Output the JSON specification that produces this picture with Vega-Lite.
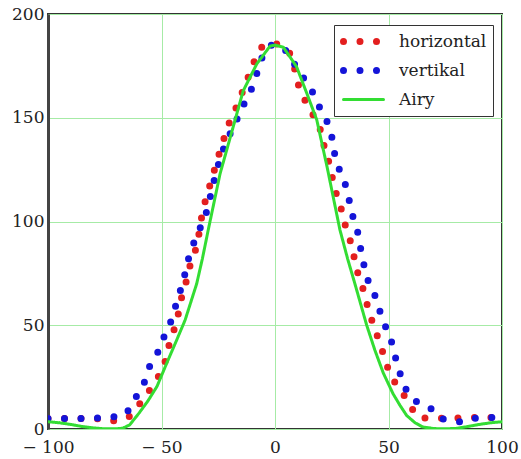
{
  "$schema": "https://vega.github.io/schema/vega-lite/v6.json",
  "width": 454,
  "height": 415,
  "autosize": {"type": "none"},
  "padding": {"left": 48, "top": 14, "right": 19, "bottom": 30},
  "background": "white",
  "config": {
    "view": {"stroke": "#333333", "strokeWidth": 2},
    "font": "DejaVu Serif"
  },
  "data": {
    "values": [
      {"series": "horizontal", "x": -100, "y": 5.1},
      {"series": "horizontal", "x": -95, "y": 5.1},
      {"series": "horizontal", "x": -90, "y": 5.1},
      {"series": "horizontal", "x": -85, "y": 5.1},
      {"series": "horizontal", "x": -80, "y": 5.0},
      {"series": "horizontal", "x": -75, "y": 4.8},
      {"series": "horizontal", "x": -72, "y": 3.8},
      {"series": "horizontal", "x": -69, "y": 4.2},
      {"series": "horizontal", "x": -66, "y": 5.0},
      {"series": "horizontal", "x": -64.6, "y": 5.5},
      {"series": "horizontal", "x": -61, "y": 10},
      {"series": "horizontal", "x": -57.3, "y": 15.6},
      {"series": "horizontal", "x": -53.6, "y": 21.2},
      {"series": "horizontal", "x": -50.7, "y": 26.5},
      {"series": "horizontal", "x": -48, "y": 33.6},
      {"series": "horizontal", "x": -46.5, "y": 41.3},
      {"series": "horizontal", "x": -44, "y": 49.3},
      {"series": "horizontal", "x": -42.2, "y": 57.3},
      {"series": "horizontal", "x": -40.8, "y": 65.4},
      {"series": "horizontal", "x": -38.9, "y": 71.8},
      {"series": "horizontal", "x": -37.2, "y": 79.9},
      {"series": "horizontal", "x": -35, "y": 86.3},
      {"series": "horizontal", "x": -33.5, "y": 94},
      {"series": "horizontal", "x": -32.3, "y": 102.3},
      {"series": "horizontal", "x": -30.8, "y": 109.5},
      {"series": "horizontal", "x": -28, "y": 120},
      {"series": "horizontal", "x": -25, "y": 131.2},
      {"series": "horizontal", "x": -20.6, "y": 146.5},
      {"series": "horizontal", "x": -17.6, "y": 153.7},
      {"series": "horizontal", "x": -15.4, "y": 159.4},
      {"series": "horizontal", "x": -12.9, "y": 166.6},
      {"series": "horizontal", "x": -10.3, "y": 173.8},
      {"series": "horizontal", "x": -8.1, "y": 180.2},
      {"series": "horizontal", "x": -5.2, "y": 185},
      {"series": "horizontal", "x": -1, "y": 186},
      {"series": "horizontal", "x": 2.9, "y": 185},
      {"series": "horizontal", "x": 6.5, "y": 181},
      {"series": "horizontal", "x": 8.8, "y": 173},
      {"series": "horizontal", "x": 10.5, "y": 165},
      {"series": "horizontal", "x": 13.5, "y": 157.7},
      {"series": "horizontal", "x": 17, "y": 151},
      {"series": "horizontal", "x": 19.8, "y": 145},
      {"series": "horizontal", "x": 21.3, "y": 137.7},
      {"series": "horizontal", "x": 23.5, "y": 129.6},
      {"series": "horizontal", "x": 25, "y": 122.4},
      {"series": "horizontal", "x": 26.4, "y": 115.2},
      {"series": "horizontal", "x": 28.6, "y": 108.8},
      {"series": "horizontal", "x": 30.4, "y": 100},
      {"series": "horizontal", "x": 32.7, "y": 92.7},
      {"series": "horizontal", "x": 34.5, "y": 84.7},
      {"series": "horizontal", "x": 36, "y": 76.6},
      {"series": "horizontal", "x": 38.2, "y": 70},
      {"series": "horizontal", "x": 39.8, "y": 63},
      {"series": "horizontal", "x": 41.9, "y": 55},
      {"series": "horizontal", "x": 44, "y": 47.7},
      {"series": "horizontal", "x": 46.5, "y": 41},
      {"series": "horizontal", "x": 48, "y": 34.8},
      {"series": "horizontal", "x": 50.5, "y": 27},
      {"series": "horizontal", "x": 53.6, "y": 21},
      {"series": "horizontal", "x": 57, "y": 16},
      {"series": "horizontal", "x": 60.2, "y": 10},
      {"series": "horizontal", "x": 63.1, "y": 5.5},
      {"series": "horizontal", "x": 69.7, "y": 5.1},
      {"series": "horizontal", "x": 75, "y": 5.3},
      {"series": "horizontal", "x": 80, "y": 5.3},
      {"series": "horizontal", "x": 85, "y": 5.5},
      {"series": "horizontal", "x": 90, "y": 5.5},
      {"series": "horizontal", "x": 95, "y": 5.5},
      {"series": "horizontal", "x": 100, "y": 5.5},

      {"series": "vertikal", "x": -100, "y": 5.1},
      {"series": "vertikal", "x": -95, "y": 5.1},
      {"series": "vertikal", "x": -90, "y": 5.1},
      {"series": "vertikal", "x": -85, "y": 5.1},
      {"series": "vertikal", "x": -80, "y": 5.1},
      {"series": "vertikal", "x": -75, "y": 5.5},
      {"series": "vertikal", "x": -70, "y": 6},
      {"series": "vertikal", "x": -66.8, "y": 6.3},
      {"series": "vertikal", "x": -63, "y": 11},
      {"series": "vertikal", "x": -60.5, "y": 17},
      {"series": "vertikal", "x": -57.3, "y": 23},
      {"series": "vertikal", "x": -55.3, "y": 30},
      {"series": "vertikal", "x": -52.1, "y": 35.5},
      {"series": "vertikal", "x": -49.9, "y": 42.4},
      {"series": "vertikal", "x": -47, "y": 48},
      {"series": "vertikal", "x": -44.5, "y": 56.5},
      {"series": "vertikal", "x": -42.8, "y": 63},
      {"series": "vertikal", "x": -40.4, "y": 71},
      {"series": "vertikal", "x": -38.9, "y": 79},
      {"series": "vertikal", "x": -37, "y": 86.3},
      {"series": "vertikal", "x": -34.2, "y": 94},
      {"series": "vertikal", "x": -31.6, "y": 100},
      {"series": "vertikal", "x": -29.4, "y": 107},
      {"series": "vertikal", "x": -27.9, "y": 115.2},
      {"series": "vertikal", "x": -26, "y": 123},
      {"series": "vertikal", "x": -24, "y": 131.2},
      {"series": "vertikal", "x": -21.5, "y": 138.5},
      {"series": "vertikal", "x": -18.5, "y": 145},
      {"series": "vertikal", "x": -15.7, "y": 152},
      {"series": "vertikal", "x": -13.2, "y": 157.7},
      {"series": "vertikal", "x": -10.3, "y": 164},
      {"series": "vertikal", "x": -7.8, "y": 172},
      {"series": "vertikal", "x": -5.6, "y": 179.4},
      {"series": "vertikal", "x": -2.2, "y": 185},
      {"series": "vertikal", "x": 2.2, "y": 185},
      {"series": "vertikal", "x": 6, "y": 181},
      {"series": "vertikal", "x": 9, "y": 175},
      {"series": "vertikal", "x": 12, "y": 170},
      {"series": "vertikal", "x": 15.4, "y": 165},
      {"series": "vertikal", "x": 17.6, "y": 160},
      {"series": "vertikal", "x": 20.5, "y": 153},
      {"series": "vertikal", "x": 23.5, "y": 147},
      {"series": "vertikal", "x": 25.2, "y": 140},
      {"series": "vertikal", "x": 26.2, "y": 133},
      {"series": "vertikal", "x": 27.8, "y": 126.4},
      {"series": "vertikal", "x": 30.4, "y": 120},
      {"series": "vertikal", "x": 32.3, "y": 112.8},
      {"series": "vertikal", "x": 33.5, "y": 104.7},
      {"series": "vertikal", "x": 36, "y": 97.5},
      {"series": "vertikal", "x": 37.4, "y": 88.7},
      {"series": "vertikal", "x": 38.9, "y": 80.6},
      {"series": "vertikal", "x": 40.2, "y": 73.4},
      {"series": "vertikal", "x": 42.6, "y": 67.8},
      {"series": "vertikal", "x": 45.2, "y": 61.3},
      {"series": "vertikal", "x": 47, "y": 53.3},
      {"series": "vertikal", "x": 49.4, "y": 47.7},
      {"series": "vertikal", "x": 52.1, "y": 39.7},
      {"series": "vertikal", "x": 53.6, "y": 31.7},
      {"series": "vertikal", "x": 55.8, "y": 24.4},
      {"series": "vertikal", "x": 58.5, "y": 17},
      {"series": "vertikal", "x": 63.1, "y": 12.4},
      {"series": "vertikal", "x": 68.3, "y": 10.3},
      {"series": "vertikal", "x": 72.7, "y": 5.1},
      {"series": "vertikal", "x": 77, "y": 4.2},
      {"series": "vertikal", "x": 81.5, "y": 3.5},
      {"series": "vertikal", "x": 85, "y": 5.1},
      {"series": "vertikal", "x": 90, "y": 5.3},
      {"series": "vertikal", "x": 95, "y": 5.5},
      {"series": "vertikal", "x": 100, "y": 5.5},

      {"series": "Airy", "x": -100, "y": 3.5},
      {"series": "Airy", "x": -95, "y": 3.0},
      {"series": "Airy", "x": -90, "y": 2.2},
      {"series": "Airy", "x": -85, "y": 1.2},
      {"series": "Airy", "x": -80, "y": 0.5},
      {"series": "Airy", "x": -75, "y": 0.1},
      {"series": "Airy", "x": -70, "y": 0.1},
      {"series": "Airy", "x": -67, "y": 0.4},
      {"series": "Airy", "x": -64, "y": 2},
      {"series": "Airy", "x": -60, "y": 7.5},
      {"series": "Airy", "x": -56, "y": 13.5},
      {"series": "Airy", "x": -52, "y": 20.5},
      {"series": "Airy", "x": -47.7, "y": 31.7},
      {"series": "Airy", "x": -43.3, "y": 42.9},
      {"series": "Airy", "x": -39.6, "y": 52.5},
      {"series": "Airy", "x": -34.5, "y": 70},
      {"series": "Airy", "x": -32, "y": 82},
      {"series": "Airy", "x": -29.4, "y": 96},
      {"series": "Airy", "x": -24.2, "y": 123},
      {"series": "Airy", "x": -18.4, "y": 145.7},
      {"series": "Airy", "x": -14, "y": 163},
      {"series": "Airy", "x": -8, "y": 176},
      {"series": "Airy", "x": -2.2, "y": 184.5},
      {"series": "Airy", "x": 0, "y": 185},
      {"series": "Airy", "x": 3.7, "y": 184},
      {"series": "Airy", "x": 9.5, "y": 174.6},
      {"series": "Airy", "x": 14, "y": 161.8},
      {"series": "Airy", "x": 18.4, "y": 149},
      {"series": "Airy", "x": 23, "y": 126},
      {"series": "Airy", "x": 28.6, "y": 96},
      {"series": "Airy", "x": 32, "y": 82},
      {"series": "Airy", "x": 35.2, "y": 70},
      {"series": "Airy", "x": 40.4, "y": 50},
      {"series": "Airy", "x": 44, "y": 38},
      {"series": "Airy", "x": 47.7, "y": 27},
      {"series": "Airy", "x": 52, "y": 17},
      {"series": "Airy", "x": 55, "y": 11.5},
      {"series": "Airy", "x": 58, "y": 6.5},
      {"series": "Airy", "x": 61.7, "y": 3},
      {"series": "Airy", "x": 65, "y": 1},
      {"series": "Airy", "x": 70, "y": 0.2},
      {"series": "Airy", "x": 75, "y": 0.1},
      {"series": "Airy", "x": 80, "y": 0.3},
      {"series": "Airy", "x": 85, "y": 1.2},
      {"series": "Airy", "x": 90, "y": 2.2},
      {"series": "Airy", "x": 95, "y": 3.0},
      {"series": "Airy", "x": 100, "y": 3.5}
    ]
  },
  "mark": {"type": "line", "strokeCap": "round", "clip": true},
  "encoding": {
    "x": {
      "field": "x", "type": "quantitative",
      "scale": {"domain": [-100, 100], "nice": false, "zero": false},
      "axis": {
        "title": null, "values": [-100, -50, 0, 50, 100],
        "domain": false, "ticks": false,
        "grid": true, "gridColor": "#a6eba6", "gridWidth": 1,
        "labelFont": "DejaVu Serif", "labelFontSize": 17, "labelColor": "#222222",
        "labelPadding": 10, "labelOverlap": false, "labelFlush": false,
        "labelExpr": "datum.value < 0 ? '\u2212 ' + abs(datum.value) : datum.label"
      }
    },
    "y": {
      "field": "y", "type": "quantitative",
      "scale": {"domain": [0, 200], "nice": false},
      "axis": {
        "title": null, "values": [0, 50, 100, 150, 200],
        "domain": true, "domainColor": "#444444", "domainWidth": 3,
        "ticks": false,
        "grid": true, "gridColor": "#a6eba6", "gridWidth": 1,
        "labelFont": "DejaVu Serif", "labelFontSize": 17, "labelColor": "#222222",
        "labelPadding": 4, "labelOverlap": false, "labelFlush": false
      }
    },
    "color": {
      "field": "series", "type": "nominal",
      "scale": {"domain": ["horizontal", "vertikal", "Airy"], "range": ["#e31f1f", "#1414d8", "#33dd33"]},
      "legend": {
        "title": null, "orient": "none", "legendX": 286, "legendY": 11,
        "fillColor": "white", "strokeColor": "#333333", "padding": 6,
        "symbolType": "stroke", "symbolSize": 1600, "clipHeight": 21,
        "labelFont": "DejaVu Serif", "labelFontSize": 17, "labelColor": "#222222",
        "labelOffset": 12, "rowPadding": 8,
        "encode": {"symbols": {"update": {"strokeCap": {"value": "round"}}}}
      }
    },
    "strokeDash": {
      "field": "series", "type": "nominal",
      "scale": {"domain": ["horizontal", "vertikal", "Airy"], "range": [[0, 16.5], [0, 16.5], [1, 0]]}
    },
    "strokeWidth": {
      "field": "series", "type": "nominal",
      "scale": {"type": "ordinal", "domain": ["horizontal", "vertikal", "Airy"], "range": [7, 7, 3]}
    }
  }
}
